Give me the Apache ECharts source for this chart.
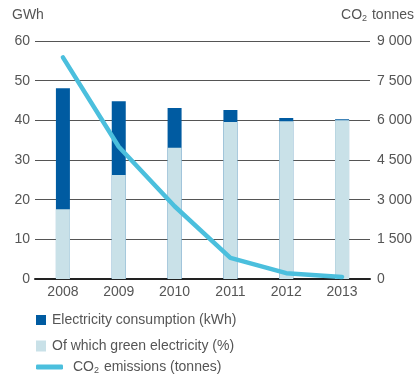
<!DOCTYPE html>
<html>
<head>
<meta charset="utf-8">
<script src="https://cdn.jsdelivr.net/npm/echarts@6/dist/echarts.min.js"></script>
<style>html,body{margin:0;padding:0;background:#fff}#c{width:417px;height:381px}</style>
</head>
<body>
<div id="c"></div>
<script>
var years = ['2008','2009','2010','2011','2012','2013'];
var consumption = [48.1, 44.8, 43.1, 42.6, 40.6, 40.3];
var green = [17.6, 26.2, 33.1, 39.6, 39.8, 40.0];
var co2 = [8380, 5000, 2750, 800, 220, 80];
var leftTicks = [0, 60, 10];
var rightTicks = [0, 9000, 1500];

var FONT = '"Liberation Sans", Arial, sans-serif';
var TXT = '#555';
var chart = echarts.init(document.getElementById('c'), null, {renderer: 'canvas'});
var subRich = {sub: {fontSize: 9, color: TXT, fontFamily: FONT, padding: [8, 1, 0, 0]}};
chart.setOption({
  animation: false,
  textStyle: {fontFamily: FONT},
  grid: {left: 35, right: 47, top: 41, bottom: 102, containLabel: false},
  legend: [
    {data: ['Electricity consumption (kWh)'], orient: 'vertical', left: 36, top: 313, padding: 0, itemWidth: 10, itemHeight: 10, icon: 'rect',
      textStyle: {fontSize: 14, color: TXT, fontFamily: FONT, padding: [0, 0, 0, 1]}, selectedMode: false},
    {data: ['Of which green electricity (%)'], orient: 'vertical', left: 36, top: 339, padding: 0, itemWidth: 10, itemHeight: 11, icon: 'rect',
      textStyle: {fontSize: 14, color: TXT, fontFamily: FONT, padding: [0, 0, 0, 1]}, selectedMode: false},
    {data: ['CO2 emissions (tonnes)'], orient: 'vertical', left: 36, top: 360, padding: 0, itemWidth: 27, itemHeight: 5, icon: 'roundRect',
      formatter: function(){ return 'CO{sub|2} emissions (tonnes)'; },
      textStyle: {fontSize: 14, color: TXT, fontFamily: FONT, padding: [0, 0, 0, 5], rich: subRich}, selectedMode: false}
  ],
  graphic: [
    {type: 'text', left: 12, top: 8, style: {text: 'GWh', fontSize: 14, fill: TXT, fontFamily: FONT}},
    {type: 'text', right: 3, top: 8, style: {text: 'CO{sub|2} tonnes', fontSize: 14, fill: TXT, fontFamily: FONT, rich: subRich}}
  ],
  xAxis: {
    type: 'category', data: years,
    axisLine: {show: true, lineStyle: {color: '#222', width: 2}},
    axisTick: {show: false},
    axisLabel: {fontSize: 14, color: TXT, margin: 6, fontFamily: FONT}
  },
  yAxis: [
    {type: 'value', min: leftTicks[0], max: leftTicks[1], interval: leftTicks[2],
      axisLine: {show: false}, axisTick: {show: false},
      axisLabel: {fontSize: 14, color: TXT, margin: 5, fontFamily: FONT},
      splitLine: {show: true, lineStyle: {color: '#555', width: 1}}},
    {type: 'value', min: rightTicks[0], max: rightTicks[1], interval: rightTicks[2],
      axisLine: {show: false}, axisTick: {show: false},
      axisLabel: {fontSize: 14, color: TXT, margin: 7, fontFamily: FONT,
        formatter: function(v){ return String(v).replace(/\B(?=(\d{3})+(?!\d))/g, ' '); }},
      splitLine: {show: false}}
  ],
  series: [
    {name: 'Electricity consumption (kWh)', type: 'bar', data: consumption, barWidth: 14,
      itemStyle: {color: '#005ba1'}, z: 2},
    {name: 'Of which green electricity (%)', type: 'bar', data: green, barWidth: 14, barGap: '-100%',
      itemStyle: {color: '#c9e1e8'}, z: 3},
    {name: 'CO2 emissions (tonnes)', type: 'line', yAxisIndex: 1, data: co2, symbol: 'none',
      lineStyle: {color: '#4bbfdd', width: 4.5, cap: 'round', join: 'round'}, itemStyle: {color: '#4bbfdd'}, z: 5}
  ]
});
</script>
</body>
</html>
